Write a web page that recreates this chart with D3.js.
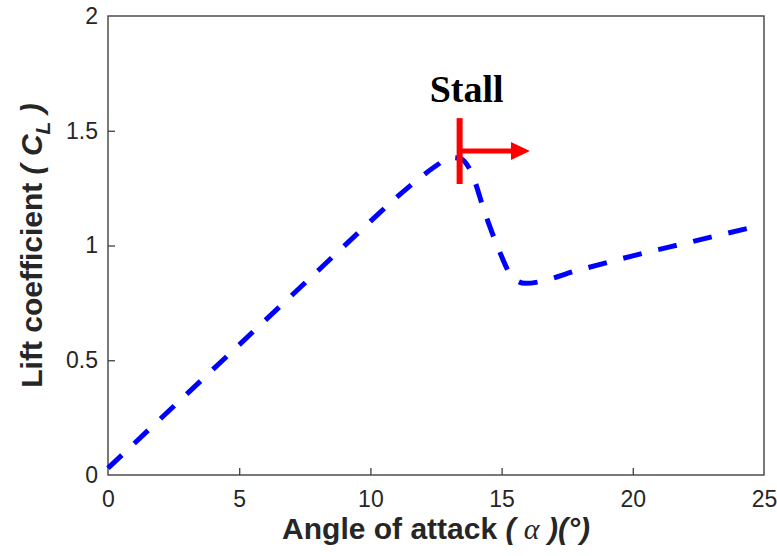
<!DOCTYPE html>
<html>
<head>
<meta charset="utf-8">
<script src="https://cdn.jsdelivr.net/npm/d3@7"></script>
<style>
  html, body { margin: 0; padding: 0; background: #fff; }
  svg { display: block; }
</style>
</head>
<body>
<svg id="chart" width="777" height="556"></svg>
<script>
// Lift curve: angle of attack (deg) vs lift coefficient
const alpha = [0, 2, 4, 6, 8, 10, 11, 12, 12.6, 13.0, 13.4, 13.8, 14.4, 14.9, 15.3, 15.6, 15.9, 18, 20, 22, 24.4];
const liftCoef = [0.03, 0.245, 0.46, 0.675, 0.89, 1.105, 1.21, 1.305, 1.355, 1.383, 1.38, 1.33, 1.13, 0.98, 0.88, 0.845, 0.835, 0.895, 0.955, 1.01, 1.075];

const xTicks = [0, 5, 10, 15, 20, 25];
const yTicks = [0, 0.5, 1, 1.5, 2];
const yTickLabels = ["0", "0.5", "1", "1.5", "2"];

// Stall marker: vertical bar and arrow pointing to higher angles
const stallAlpha = 13.4;
const stallBar = [1.268, 1.555];
const stallArrowCL = 1.412;
const stallArrowEnd = 16.08;
const stallLabel = "Stall";

const svg = d3.select("#chart");
const margin = { left: 108, right: 13, top: 16, bottom: 81 };
const W = 777, H = 556;
const x = d3.scaleLinear().domain([0, 25]).range([margin.left, W - margin.right]);
const y = d3.scaleLinear().domain([0, 2]).range([H - margin.bottom, margin.top]);

const axisColor = "#404040";
const tickFont = "Liberation Sans, Arial, sans-serif";
const serifFont = "Liberation Serif, Times New Roman, serif";

// x axis
const gx = svg.append("g")
  .attr("transform", `translate(0,${y(0)})`)
  .call(d3.axisBottom(x).tickValues(xTicks).tickFormat(d3.format("d"))
    .tickSizeInner(-7).tickSizeOuter(0).tickPadding(16));
gx.select(".domain").remove();
gx.selectAll(".tick line").attr("stroke", axisColor).attr("stroke-width", 1.3);
gx.selectAll(".tick text").attr("fill", "#262626")
  .style("font-family", tickFont).style("font-size", "23px");

// y axis
const gy = svg.append("g")
  .attr("transform", `translate(${x(0)},0)`)
  .call(d3.axisLeft(y).tickValues(yTicks).tickFormat((d, i) => yTickLabels[i])
    .tickSizeInner(-7).tickSizeOuter(0).tickPadding(10));
gy.select(".domain").remove();
gy.selectAll(".tick line").attr("stroke", axisColor).attr("stroke-width", 1.3);
gy.selectAll(".tick text").attr("fill", "#262626")
  .style("font-family", tickFont).style("font-size", "23px");

// hide ticks that sit on the box edges
gx.selectAll(".tick line").filter(d => d === 0 || d === 25).remove();
gy.selectAll(".tick line").filter(d => d === 0 || d === 2).remove();

// box
svg.append("rect")
  .attr("x", x(0)).attr("y", y(2))
  .attr("width", x(25) - x(0)).attr("height", y(0) - y(2))
  .attr("fill", "none").attr("stroke", axisColor).attr("stroke-width", 1.4);

// lift curve
const pts = alpha.map((a, i) => [a, liftCoef[i]]);
const line = d3.line().x(d => x(d[0])).y(d => y(d[1])).curve(d3.curveMonotoneX);
svg.append("path")
  .datum(pts)
  .attr("d", line)
  .attr("fill", "none")
  .attr("stroke", "#0000ff")
  .attr("stroke-width", 5)
  .attr("stroke-dasharray", "19 17")
  .attr("stroke-linejoin", "round");

// stall marker
const red = "#ff0000";
svg.append("line")
  .attr("x1", x(stallAlpha)).attr("x2", x(stallAlpha))
  .attr("y1", y(stallBar[0])).attr("y2", y(stallBar[1]))
  .attr("stroke", red).attr("stroke-width", 6);
const headLen = 19, headHalf = 9;
svg.append("line")
  .attr("x1", x(stallAlpha)).attr("x2", x(stallArrowEnd) - headLen + 1)
  .attr("y1", y(stallArrowCL)).attr("y2", y(stallArrowCL))
  .attr("stroke", red).attr("stroke-width", 5);
const tipX = x(stallArrowEnd), tipY = y(stallArrowCL);
svg.append("path")
  .attr("d", `M${tipX},${tipY} L${tipX - headLen},${tipY - headHalf} L${tipX - headLen},${tipY + headHalf} Z`)
  .attr("fill", red);

svg.append("text")
  .attr("x", x(stallAlpha) + 7).attr("y", 102)
  .attr("text-anchor", "middle")
  .style("font-family", serifFont)
  .style("font-weight", "bold").style("font-size", "38px")
  .attr("fill", "#000")
  .text(stallLabel);

// axis titles
const xt = svg.append("text")
  .attr("x", (x(0) + x(25)) / 2).attr("y", 539)
  .attr("text-anchor", "middle")
  .style("font-family", tickFont).style("font-weight", "bold").style("font-size", "30px")
  .attr("fill", "#262626");
xt.append("tspan").text("Angle of attack ");
xt.append("tspan").style("font-style", "italic").text("( ");
xt.append("tspan").style("font-family", serifFont)
  .style("font-style", "italic").style("font-weight", "normal").text("α");
xt.append("tspan").style("font-style", "italic").text(" )(°)");

const yt = svg.append("text")
  .attr("transform", `translate(42,${(y(0) + y(2)) / 2}) rotate(-90)`)
  .attr("text-anchor", "middle")
  .style("font-family", tickFont).style("font-weight", "bold").style("font-size", "30px")
  .attr("fill", "#262626");
yt.append("tspan").text("Lift coefficient ");
yt.append("tspan").style("font-style", "italic").text("( ");
yt.append("tspan").style("font-style", "italic").text("C");
yt.append("tspan").style("font-style", "italic").style("font-size", "21px").attr("dy", 8).text("L");
yt.append("tspan").style("font-style", "italic").attr("dy", -8).text(" )");
</script>
</body>
</html>
